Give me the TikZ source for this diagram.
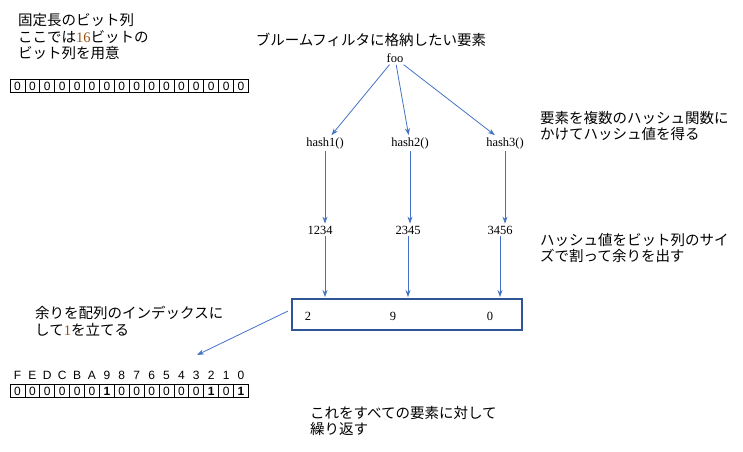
\documentclass[tikz,border=0pt]{standalone}
\usepackage{fontspec}
\setmainfont{Liberation Serif}
\newfontfamily\jpfont{Noto Sans CJK JP}
\newfontfamily\bitfont{Liberation Sans}
\usetikzlibrary{arrows.meta,positioning}
\definecolor{arrowblue}{RGB}{68,114,196}
\definecolor{boxblue}{RGB}{47,85,151}
\definecolor{numbrown}{RGB}{150,80,20}
\tikzset{
  % 説明文
  note/.style={align=left, anchor=west, font=\jpfont\fontsize{14.5}{16.5}\selectfont, inner sep=0pt},
  % ハッシュ関数と値
  func/.style={font=\fontsize{12.5}{14}\selectfont, inner sep=2pt},
  % ビット列のセル
  bit/.style={draw, line width=0.8pt, minimum width=14.9pt, minimum height=13pt, inner sep=0pt, font=\bitfont\fontsize{12}{13}\selectfont},
  % 矢印
  arr/.style={-{Stealth[length=7pt,width=5pt]}, arrowblue, line width=0.8pt},
}
\begin{document}
\begin{tikzpicture}[x=1pt, y=-1pt]
  \useasboundingbox (0,0) rectangle (743,451);

  % 左上の説明とビット列
  \node[note] (intro) at (18,37) {固定長のビット列\\ここでは{\rmfamily\color{numbrown}16}ビットの\\ビット列を用意};
  \foreach \i in {0,...,15}
    \node[bit] (t\i) at (17.5+\i*14.9,86) {0};

  % 要素とハッシュ関数
  \node[note, anchor=center] (title) at (371,40) {ブルームフィルタに格納したい要素};
  \node[func] (foo) at (395,58) {foo};
  \node[func] (h1) at (325,143) {hash1()};
  \node[func] (h2) at (410,143) {hash2()};
  \node[func] (h3) at (505,143) {hash3()};
  \node[note] (n1) at (540,126) {要素を複数のハッシュ関数に\\かけてハッシュ値を得る};

  \node[func] (v1) at (320,230) {1234};
  \node[func] (v2) at (408,230) {2345};
  \node[func] (v3) at (500,230) {3456};
  \node[note] (n2) at (540,248) {ハッシュ値をビット列のサイ\\ズで割って余りを出す};

  % 余り
  \draw[boxblue, line width=2.2pt] (292,299) rectangle (522,330);
  \node[func] (r1) at (308,316) {2};
  \node[func] (r2) at (393,316) {9};
  \node[func] (r3) at (490,316) {0};
  \coordinate (rin1) at (325,297);
  \coordinate (rin2) at (408,297);
  \coordinate (rin3) at (500,297);
  \coordinate (rout) at (288,311);
  \coordinate (bitin) at (197,355);
  \node[note] (n3) at (35,321) {余りを配列のインデックスに\\して{\rmfamily\color{numbrown}1}を立てる};

  % 結果のビット列
  \foreach \i/\l in {0/F,1/E,2/D,3/C,4/B,5/A,6/9,7/8,8/7,9/6,10/5,11/4,12/3,13/2,14/1,15/0}
    \node[font=\bitfont\fontsize{12}{13}\selectfont] (l\i) at (17.5+\i*14.9,375) {\l};
  \foreach \i in {0,...,15}
    \node[bit] (b\i) at (17.5+\i*14.9,391) {0};
  \foreach \i in {6,13,15}
    \node[bit, fill=white, font=\bitfont\bfseries\fontsize{12}{13}\selectfont] at (b\i) {1};

  \node[note] (n4) at (310,421) {これをすべての要素に対して\\繰り返す};

  % 矢印
  \draw[arr] (foo) -- (h1);
  \draw[arr] (foo) -- (h2);
  \draw[arr] (foo) -- (h3);
  \draw[arr] (h1) -- (h1 |- v1.north);
  \draw[arr] (h2) -- (h2 |- v2.north);
  \draw[arr] (h3) -- (h3 |- v3.north);
  \draw[arr] (v1.south -| rin1) -- (rin1);
  \draw[arr] (v2) -- (rin2);
  \draw[arr] (v3) -- (rin3);
  \draw[arr] (rout) -- (bitin);
\end{tikzpicture}
\end{document}
